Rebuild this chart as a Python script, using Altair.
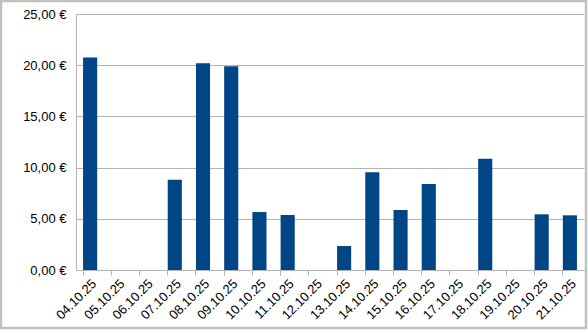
import altair as alt
import pandas as pd

dates = ["04.10.25", "05.10.25", "06.10.25", "07.10.25", "08.10.25", "09.10.25",
         "10.10.25", "11.10.25", "12.10.25", "13.10.25", "14.10.25", "15.10.25",
         "16.10.25", "17.10.25", "18.10.25", "19.10.25", "20.10.25", "21.10.25"]
amounts = [20.75, 0, 0, 8.82, 20.20, 19.90,
           5.66, 5.37, 0, 2.34, 9.54, 5.86,
           8.40, 0, 10.87, 0, 5.44, 5.34]
y_ticks = [0, 5, 10, 15, 20, 25]

df = pd.DataFrame({"date": dates, "amount": amounts})

font = "Liberation Sans"

bars = alt.Chart(df).mark_bar(color="#004586").encode(
    x=alt.X("date:N", sort=dates, title=None,
            scale=alt.Scale(paddingInner=0.5, paddingOuter=0.25),
            axis=alt.Axis(labelAngle=-45, labelFont=font, labelFontSize=13,
                          labelColor="#000000", tickColor="#b3b3b3", tickSize=5,
                          domainColor="#b3b3b3", bandPosition=0, labelPadding=2,
                          labelAlign="right", labelBaseline="top",
                          labelOffset=0)),
    y=alt.Y("amount:Q", title=None,
            scale=alt.Scale(domain=[0, 25], nice=False),
            axis=alt.Axis(values=y_ticks, grid=True, gridColor="#b3b3b3",
                          domainColor="#b3b3b3", ticks=False, labelPadding=10,
                          labelFont=font, labelFontSize=13, labelColor="#000000",
                          labelExpr="replace(format(datum.value, '.2f'), '.', ',') + ' €'")),
)

# outer chart frame (decoration)
frame = alt.Chart(pd.DataFrame({"f": [0]})).mark_rect(
    fill=None, stroke="#c0c0c0", strokeWidth=2.5, clip=False
).encode(
    x=alt.value(-75), x2=alt.value(510),
    y=alt.value(-13), y2=alt.value(314),
)

chart = alt.layer(bars, frame).properties(
    width=508, height=256,
    autosize=alt.AutoSizeParams(type="none"),
    padding={"left": 76, "top": 14, "right": 4, "bottom": 64},
    background="white",
).configure_view(stroke=None)

chart.save("out.html", embed_options={"renderer": "svg", "actions": False})
